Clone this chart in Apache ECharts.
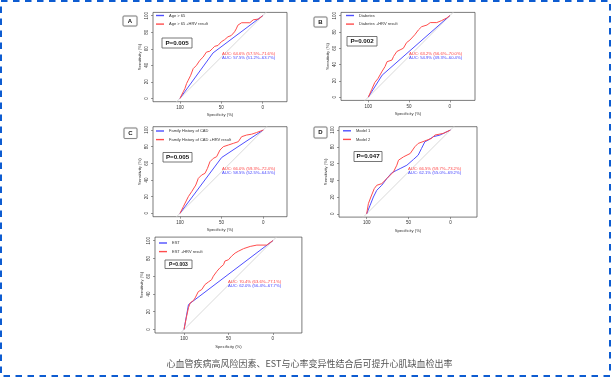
<!DOCTYPE html>
<html>
<head>
<meta charset="utf-8">
<script src="https://cdn.jsdelivr.net/npm/echarts@6/dist/echarts.min.js"></script>
<style>
  html, body { margin: 0; padding: 0; background: #fff; }
  #chart { width: 612px; height: 378px; }
</style>
</head>
<body>
<div id="chart"></div>
<script>
// ROC points: [specificity %, sensitivity %]
const ageBase = [[100, 0], [60, 55], [0, 100]];
const ageHrv = [[100, 0], [98, 2], [96, 8], [94, 12], [92, 18], [90, 22], [87, 28], [84, 36], [80, 40],
  [76, 46], [72, 50], [68, 56], [64, 57], [61, 60], [58, 63], [54, 64], [50, 68.5], [46, 71], [42, 74.5],
  [38, 76], [34, 80.5], [32, 84], [30, 88.5], [25.5, 91.5], [15.5, 91.5], [11.5, 95], [5, 96], [0, 100]];

const diabBase = [[100, 0], [83, 27], [0, 100]];
const diabHrv = [[100, 0], [96, 9], [92, 18], [88, 23], [83.5, 31], [79.5, 37.5], [77, 43.5], [71, 45.5],
  [69, 50], [65, 56], [61, 58], [57, 60], [53, 67], [49, 70], [43, 76.5], [38.5, 82.5], [34.5, 86.5],
  [28, 88.5], [24, 91.5], [16, 91.5], [10, 94], [4, 97], [0, 100]];

const famBase = [[100, 0], [50, 67], [0, 100]];
const famHrv = [[100, 0], [96, 8], [90, 20], [86, 26], [81, 34], [78, 42], [74, 46], [70, 48], [67, 54],
  [64, 62], [60, 66], [56, 68], [52, 76], [48, 80], [42, 82], [36, 84], [30, 86], [26, 92], [20, 94],
  [14, 95], [8, 97], [0, 100]];

const model1 = [[100, 0], [96, 10], [92, 20], [88, 28], [82, 34], [76, 42], [70, 49], [64, 52], [60, 54],
  [52, 58], [44, 65], [38.5, 70], [34.5, 78], [30.5, 86], [26.5, 88], [20.5, 92], [12.5, 94], [0, 100]];
const model2 = [[100, 0], [98, 12], [95, 20], [91, 30], [88, 34], [82, 36], [76, 42], [68, 50], [64, 58],
  [62, 64], [56, 68], [48, 72], [42.5, 80], [38.5, 84], [30.5, 87], [22.5, 90], [18.5, 94], [8.5, 96], [0, 100]];

const estBase = [[100, 0], [95, 28], [0, 100]];
const estHrv = [[100, 0], [97.5, 13], [95, 24.5], [93, 30], [89.5, 32.5], [87.5, 35.5], [84, 42.5],
  [80, 45], [76.5, 50.5], [72.5, 53.5], [69, 56], [67, 60], [63, 65.5], [59.5, 69.5], [55.5, 73],
  [54, 77], [50, 78.5], [46.5, 82.5], [42.5, 86], [39, 88], [33, 91], [25.5, 93.5], [18, 95], [7, 95], [0, 100]];

const diagonal = [[150, -50], [-50, 150]];

const seriesNames = [
  ['Age > 65', 'Age > 65 +HRV result'],
  ['Diabetes', 'Diabetes +HRV result'],
  ['Family History of CAD', 'Family History of CAD +HRV result'],
  ['Model 1', 'Model 2'],
  ['EST', 'EST +HRV result']
];
const curves = [
  [ageBase, ageHrv], [diabBase, diabHrv], [famBase, famHrv], [model1, model2], [estBase, estHrv]
];
const aucRed = [
  'AUC: 64.6% (57.5%\u201371.6%)', 'AUC: 63.2% (56.6%\u201370.0%)', 'AUC: 66.0% (59.3%\u201372.4%)',
  'AUC: 66.5% (59.7%\u201373.2%)', 'AUC: 70.4% (63.6%\u201377.1%)'
];
const aucBlue = [
  'AUC: 57.5% (51.2%\u201363.7%)', 'AUC: 54.9% (49.3%\u201360.4%)', 'AUC: 58.5% (52.5%\u201364.5%)',
  'AUC: 62.1% (55.0%\u201369.2%)', 'AUC: 62.0% (56.4%\u201367.7%)'
];
const pValues = ['P=0.005', 'P=0.002', 'P=0.005', 'P=0.047', 'P=0.003'];
const panelLetters = ['A', 'B', 'C', 'D', null];
const yTicks = [0, 20, 40, 60, 80, 100];
const xTicks = [0, 50, 100];
const caption = '心血管疾病高风险因素、EST与心率变异性结合后可提升心肌缺血检出率';

// layout of each panel (pixels)
const layout = [
  { left: 153, top: 12.4, width: 134, height: 89.3, xMin: -29.4, xMax: 132.6,
    legend: [156, 13], pbox: [162, 38, 30, 10], letter: [123, 16, 14, 10], auc: [222, 54.3] },
  { left: 341, top: 12.4, width: 134, height: 88, xMin: -30.9, xMax: 133.5,
    legend: [346, 13], pbox: [347, 36.5, 30, 9.5], letter: [314, 17, 13, 10], auc: [409, 54.3] },
  { left: 153, top: 126.7, width: 134, height: 90, xMin: -28.5, xMax: 132.4,
    legend: [156, 128.5], pbox: [163, 152.5, 29, 9.5], letter: [124, 128, 13, 10.5], auc: [222, 169.3] },
  { left: 339, top: 126.7, width: 138, height: 90.4, xMin: -31.8, xMax: 133.1,
    legend: [343, 128.3], pbox: [354, 151.5, 28, 10], letter: [314, 127, 13, 11], auc: [408, 169] },
  { left: 155, top: 237.1, width: 146.9, height: 95.9, xMin: -32.7, xMax: 132.7,
    legend: [159, 240.5], pbox: [165, 260, 27, 8.5], letter: null, auc: [228, 282.3] }
];

const FONT = 'Liberation Sans, Arial, sans-serif';
const chart = echarts.init(document.getElementById('chart'));

const grid = [], xAxis = [], yAxis = [], series = [], legend = [], graphic = [];

layout.forEach((L, i) => {
  grid.push({
    left: L.left, top: L.top, width: L.width, height: L.height,
    show: true, borderColor: '#444', borderWidth: 0.7, backgroundColor: 'transparent'
  });
  xAxis.push({
    gridIndex: i, type: 'value', inverse: true, min: L.xMin, max: L.xMax, position: 'bottom',
    axisLine: { show: false, onZero: false }, splitLine: { show: false },
    axisTick: { show: true, customValues: xTicks, length: 2, lineStyle: { color: '#555', width: 0.6 } },
    axisLabel: { customValues: xTicks, fontSize: 4.5, color: '#333', margin: 3.5, fontFamily: FONT },
    name: 'Specificity (%)', nameLocation: 'middle', nameGap: 11.5,
    nameTextStyle: { fontSize: 4.2, color: '#333', fontFamily: FONT }
  });
  yAxis.push({
    gridIndex: i, type: 'value', min: -4, max: 104, position: 'left',
    axisLine: { show: false, onZero: false }, splitLine: { show: false },
    axisTick: { show: true, customValues: yTicks, length: 2, lineStyle: { color: '#555', width: 0.6 } },
    axisLabel: { customValues: yTicks, fontSize: 4.5, color: '#333', rotate: 90, margin: 3.5, fontFamily: FONT },
    name: 'Sensitivity (%)', nameLocation: 'middle', nameGap: 11,
    nameTextStyle: { fontSize: 4.2, color: '#333', fontFamily: FONT }
  });

  series.push({
    type: 'line', xAxisIndex: i, yAxisIndex: i, data: diagonal, silent: true,
    symbol: 'none', lineStyle: { color: '#cfcfcf', width: 0.8 }, clip: true, z: 1
  });
  series.push({
    name: seriesNames[i][0], type: 'line', xAxisIndex: i, yAxisIndex: i, data: curves[i][0],
    symbol: 'none', lineStyle: { color: '#4f4fff', width: 1 }, itemStyle: { color: '#4f4fff' },
    clip: true, z: 2
  });
  series.push({
    name: seriesNames[i][1], type: 'line', xAxisIndex: i, yAxisIndex: i, data: curves[i][1],
    symbol: 'none', lineStyle: { color: '#ff4d4d', width: 1 }, itemStyle: { color: '#ff4d4d' },
    clip: true, z: 3
  });

  legend.push({
    data: seriesNames[i], left: L.legend[0], top: L.legend[1], orient: 'vertical',
    padding: 0, itemWidth: 8, itemHeight: 1.4, itemGap: 3.6, icon: 'rect', selectedMode: false,
    textStyle: { fontSize: 4, lineHeight: 5, color: '#333', fontFamily: FONT }
  });

  // P value box
  const [px, py, pw, ph] = L.pbox;
  graphic.push({
    type: 'rect', shape: { x: px, y: py, width: pw, height: ph },
    style: { fill: '#fff', stroke: '#555', lineWidth: 0.8 }, z: 10
  });
  graphic.push({
    type: 'text', x: px + pw / 2, y: py + ph / 2,
    style: { text: pValues[i], fill: '#111', font: (i === 4 ? 'bold 5px ' : 'bold 6.2px ') + FONT,
      textAlign: 'center', textVerticalAlign: 'middle' }, z: 11
  });

  // panel letter box
  if (L.letter) {
    const [lx, ly, lw, lh] = L.letter;
    graphic.push({
      type: 'rect', shape: { x: lx, y: ly, width: lw, height: lh, r: 1 },
      style: { fill: '#fff', stroke: '#777', lineWidth: 0.8, shadowBlur: 1, shadowColor: 'rgba(0,0,0,0.25)' }, z: 10
    });
    graphic.push({
      type: 'text', x: lx + lw / 2, y: ly + lh / 2,
      style: { text: panelLetters[i], fill: '#111', font: 'bold 6px ' + FONT,
        textAlign: 'center', textVerticalAlign: 'middle' }, z: 11
    });
  }

  // AUC labels
  graphic.push({
    type: 'text', x: L.auc[0], y: L.auc[1],
    style: { text: aucRed[i], fill: '#ff4040', font: '4.2px ' + FONT, textVerticalAlign: 'middle' }, z: 11
  });
  graphic.push({
    type: 'text', x: L.auc[0], y: L.auc[1] + 4,
    style: { text: aucBlue[i], fill: '#4040ff', font: '4.2px ' + FONT, textVerticalAlign: 'middle' }, z: 11
  });
});

// caption
graphic.push({
  type: 'text', x: 309.5, y: 364,
  style: { text: caption, fill: '#555', font: '9px "Noto Sans CJK SC", sans-serif',
    textAlign: 'center', textVerticalAlign: 'middle' }, z: 11
});
// dashed outer border
graphic.push({
  type: 'rect', shape: { x: 1, y: 1, width: 609, height: 375 },
  style: { fill: null, stroke: '#0d5cd1', lineWidth: 2, lineDash: [6.5, 5.5] }, z: 12
});

chart.setOption({
  animation: false,
  backgroundColor: '#fff',
  grid, xAxis, yAxis, series, legend, graphic
});
</script>
</body>
</html>
